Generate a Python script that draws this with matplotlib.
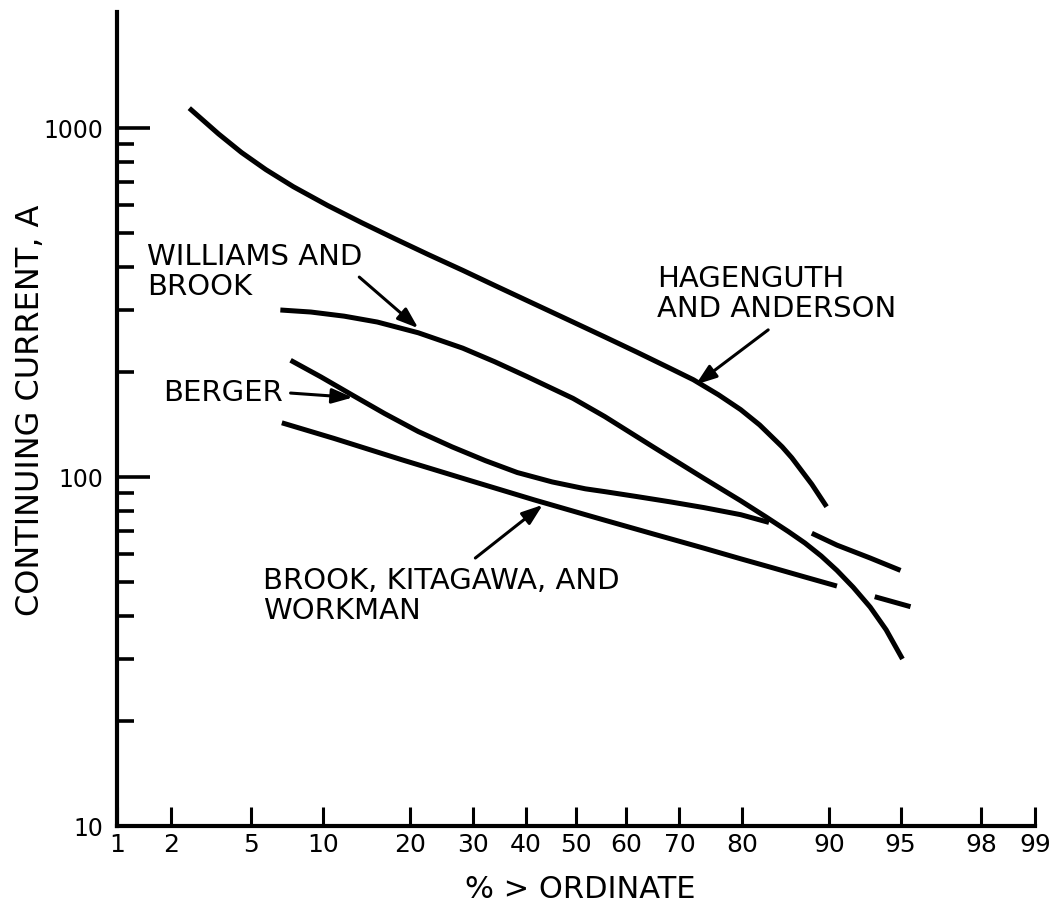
from statistics import NormalDist

import numpy as np
import matplotlib
matplotlib.use("Agg")
import matplotlib.pyplot as plt
from matplotlib.ticker import FixedLocator, NullFormatter

# percent of strokes whose continuing current exceeds the ordinate (A)
hag_pct = [2.5, 3.5, 4.5, 5.8, 7.6, 10.4, 13.9, 17.9, 22.7, 28.3, 34.0, 42.3,
           49.4, 55.8, 62.1, 68.3, 72.4, 76.5, 79.8, 82.4, 85.2, 86.3, 88.4, 89.8]
hag_amp = [1140, 962, 851, 760, 679, 600, 535, 482, 434, 391, 354, 310,
           278, 252, 228, 205, 190, 172, 156, 141, 122, 113.5, 95.3, 82.2]

wb_pct = [6.7, 8.95, 12.0, 15.7, 21.2, 28.3, 34.0, 40.2, 49.4, 55.8, 65.2, 74.2,
          79.8, 83.2, 85.9, 87.7, 89.3, 90.7, 92.0, 93.2, 94.2, 95.1]
wb_amp = [301, 297, 289, 278, 259, 234, 214, 194, 168, 149, 122, 99,
          85.5, 76.9, 69.8, 64.7, 59.4, 54, 48.3, 42.4, 36.5, 30.1]

# Berger and Brook curves are broken where the Williams curve crosses them
berger_pct_a = [7.4, 9.8, 12.8, 16.6, 21.2, 26.5, 32.3, 38.3, 45.2, 51.9, 55.8,
                62.1, 68.3, 74.2, 79.8, 83.6]
berger_amp_a = [216, 193.6, 172, 152, 135, 122, 111.4, 103, 96.8, 92.5, 90.8,
                87.9, 84.9, 81.7, 78.0, 74.1]
berger_pct_b = [88.4, 90.7, 93.2, 95.0]
berger_amp_b = [69, 63.8, 58.6, 54]

bkw_pct_a = [6.8, 11.0, 18.9, 29.3, 41.6, 51.9, 55.8, 65.2, 74.2, 79.8, 84.1, 87.7, 90.7]
bkw_amp_a = [143, 129, 112, 98, 86, 78, 75.2, 68.7, 62.5, 58.3, 54.9, 51.7, 48.7]
bkw_pct_b = [93.5, 95.5]
bkw_amp_b = [45.4, 42.5]

x_ticks = [1, 2, 5, 10, 20, 30, 40, 50, 60, 70, 80, 90, 95, 98, 99]
y_major = [10, 100, 1000]
y_minor = [20, 30, 40, 50, 60, 70, 80, 90, 200, 300, 400, 500, 600, 700, 800, 900]

nd = NormalDist()
_ppf = np.vectorize(nd.inv_cdf, otypes=[float])
_cdf = np.vectorize(nd.cdf, otypes=[float])


def prob_fwd(p):
    p = np.clip(np.asarray(p, dtype=float) / 100.0, 1e-6, 1 - 1e-6)
    return _ppf(p)


def prob_inv(z):
    return _cdf(np.asarray(z, dtype=float)) * 100.0


W, H = 1057, 909
fig = plt.figure(figsize=(W / 100, H / 100), dpi=100)
ax = fig.add_axes([117 / W, 1 - 826 / H, 918 / W, (826 - 12) / H])

lw = 3.6
for xs, ys in [(hag_pct, hag_amp), (wb_pct, wb_amp),
               (berger_pct_a, berger_amp_a), (berger_pct_b, berger_amp_b),
               (bkw_pct_a, bkw_amp_a), (bkw_pct_b, bkw_amp_b)]:
    ax.plot(xs, ys, color="black", lw=lw, solid_capstyle="butt", solid_joinstyle="round")

ax.set_xscale("function", functions=(prob_fwd, prob_inv))
ax.set_yscale("log")
ax.set_xlim(1, 99)
ax.set_ylim(10, 2150)

for s in ["top", "right"]:
    ax.spines[s].set_visible(False)
for s in ["left", "bottom"]:
    ax.spines[s].set_linewidth(3)

ax.xaxis.set_major_locator(FixedLocator(x_ticks))
ax.set_xticklabels([str(t) for t in x_ticks])
ax.xaxis.set_minor_locator(FixedLocator([]))
ax.yaxis.set_major_locator(FixedLocator(y_major))
ax.set_yticklabels([str(t) for t in y_major])
ax.yaxis.set_minor_locator(FixedLocator(y_minor))
ax.yaxis.set_minor_formatter(NullFormatter())

ax.tick_params(axis="x", which="major", direction="in", length=14, width=2.2,
               labelsize=18, pad=5)
ax.tick_params(axis="y", which="major", direction="in", length=24, width=2.6,
               labelsize=17, pad=10)
ax.tick_params(axis="y", which="minor", direction="in", length=12, width=2.6)

fig.text(580 / W, 1 - 890 / H, "% > ORDINATE", fontsize=22, ha="center", va="center")
fig.text(31 / W, 1 - 410 / H, "CONTINUING CURRENT, A", fontsize=23,
         rotation=90, ha="center", va="center")

txt = dict(fontsize=21, ha="left", va="center", linespacing=1.05)
fig.text(147 / W, 1 - 272 / H, "WILLIAMS AND\nBROOK", **txt)
fig.text(657 / W, 1 - 294 / H, "HAGENGUTH\nAND ANDERSON", **txt)
fig.text(163 / W, 1 - 393 / H, "BERGER", **txt)
fig.text(263 / W, 1 - 596 / H, "BROOK, KITAGAWA, AND\nWORKMAN", **txt)

arrow = dict(arrowstyle="-|>,head_length=0.7,head_width=0.25", color="black",
             lw=2.2, mutation_scale=18, shrinkA=0, shrinkB=0)
ax.annotate("", xy=(21.2, 267), xytext=(13.6, 374), arrowprops=arrow)
ax.annotate("", xy=(72.8, 184), xytext=(83.5, 264), arrowprops=arrow)
ax.annotate("", xy=(12.9, 169), xytext=(7.4, 174), arrowprops=arrow)
ax.annotate("", xy=(43.3, 83.2), xytext=(30.5, 58.6), arrowprops=arrow)

fig.savefig("out.png", dpi=100)
